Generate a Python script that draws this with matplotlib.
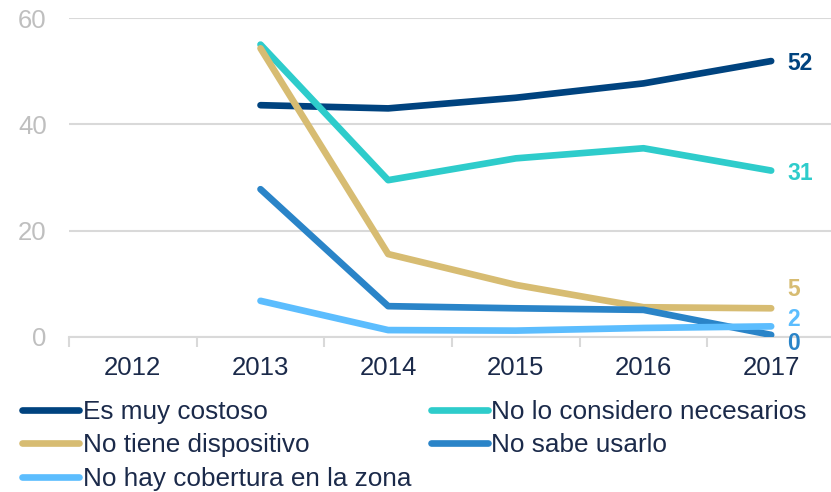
import matplotlib
matplotlib.use("Agg")
import matplotlib.pyplot as plt
from matplotlib.lines import Line2D
import numpy as np

years = ["2012", "2013", "2014", "2015", "2016", "2017"]
series_names = ["Es muy costoso", "No lo considero necesarios", "No tiene dispositivo",
                "No sabe usarlo", "No hay cobertura en la zona"]
es_muy_costoso = [None, 43.6, 43.0, 45.0, 47.7, 51.9]
no_lo_considero = [None, 55.0, 29.5, 33.6, 35.5, 31.3]
no_tiene_dispositivo = [None, 54.3, 15.6, 9.8, 5.6, 5.4]
no_sabe_usarlo = [None, 27.8, 5.8, 5.4, 5.1, 0.4]
no_hay_cobertura = [None, 6.8, 1.3, 1.2, 1.7, 2.0]
end_labels = ["52", "31", "5", "0", "2"]

series = [es_muy_costoso, no_lo_considero, no_tiene_dispositivo, no_sabe_usarlo, no_hay_cobertura]
colors = ["#00437F", "#2ECCCB", "#D7BC72", "#2A84C8", "#5CBDFE"]
label_offsets = [(0, 0), (0, 0), (0, 15), (0, -4.5), (0, 7)]

plt.rcParams['font.family'] = ['Liberation Sans', 'DejaVu Sans']

fig = plt.figure(figsize=(8.31, 4.92), dpi=100)
ax = fig.add_axes([69/831, (492-337)/492, 766/831, (337-18)/492])

for name, vals, col, lab, off in zip(series_names, series, colors, end_labels, label_offsets):
    xs = [i for i, v in enumerate(vals) if v is not None]
    ys = [v for v in vals if v is not None]
    ax.plot(xs, ys, color=col, lw=4.8, solid_capstyle='round',
            solid_joinstyle='round', zorder=3, label=name)
    ax.annotate(lab, (xs[-1], ys[-1]), xytext=(11.5 + off[0], off[1]), textcoords='offset points',
                ha='left', va='center_baseline', color=col, fontsize=16.5, fontweight='bold')

ax.set_xlim(-0.5, 5.5)
ax.set_ylim(0, 60)
ax.set_yticks([0, 20, 40, 60])
ax.set_xticks(range(len(years)))
ax.set_xticklabels(years)
ax.set_xticks(np.arange(-0.5, 5.6, 1), minor=True)
ax.tick_params(axis='x', which='major', length=0, pad=14, labelsize=18.5, labelcolor='#1B2A4A')
ax.tick_params(axis='x', which='minor', length=7, width=1.5, color='#D9D9D9')
ax.tick_params(axis='y', length=0, pad=16, labelsize=18.5, labelcolor='#BFBFBF')
ax.grid(axis='y', color='#D9D9D9', lw=1.5)
ax.set_axisbelow(True)
for s in ['top', 'right', 'left']:
    ax.spines[s].set_visible(False)
ax.spines['bottom'].set_color('#D9D9D9')
ax.spines['bottom'].set_linewidth(1.5)

order = [0, 2, 4, 1, 3]
handles = [Line2D([], [], color=colors[i], lw=4.8, solid_capstyle='round') for i in order]
labels = [series_names[i] for i in order]
leg = fig.legend(handles, labels, ncol=2, loc='upper left',
                 bbox_to_anchor=(22 / 831, (492 - 400) / 492), frameon=False,
                 prop={'size': 18.8},
                 handlelength=2.2, handletextpad=0.12, columnspacing=0.75,
                 labelspacing=0.36, borderaxespad=0, borderpad=0)
for t in leg.get_texts():
    t.set_color('#1B2A4A')

fig.savefig("out.png", dpi=100)
